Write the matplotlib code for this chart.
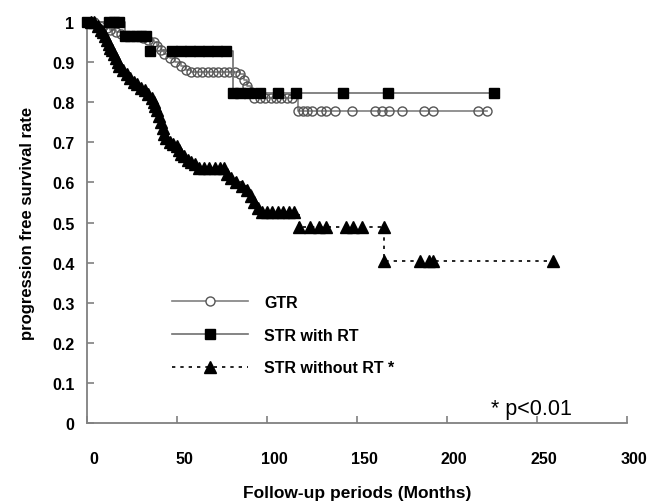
import matplotlib.pyplot as plt
from matplotlib.transforms import ScaledTranslation

plt.rcParams['font.family'] = ['Liberation Sans', 'DejaVu Sans']

# GTR (open circles)
gtr_t = [0, 4, 7, 9, 11, 13, 16, 19, 22, 25, 28, 31, 34, 37, 39, 41, 43, 46, 49, 52, 55,
         58, 61, 64, 67, 70, 73, 76, 79, 82, 85, 87, 89, 91, 93, 96, 99, 102, 105, 108,
         111, 114, 117, 120, 122, 125, 130, 133, 138, 147, 160, 164, 168, 175, 187, 192,
         217, 222]
gtr_s = [1.0, 1.0, 0.99, 0.99, 0.985, 0.98, 0.975, 0.97, 0.965, 0.965, 0.965, 0.96, 0.955,
         0.95, 0.94, 0.93, 0.92, 0.91, 0.90, 0.89, 0.88, 0.875, 0.875, 0.875, 0.875, 0.875,
         0.875, 0.875, 0.875, 0.875, 0.87, 0.855, 0.84, 0.825, 0.81, 0.81, 0.81, 0.81, 0.81,
         0.81, 0.81, 0.81, 0.778, 0.778, 0.778, 0.778, 0.778, 0.778, 0.778, 0.778, 0.778,
         0.778, 0.778, 0.778, 0.778, 0.778, 0.778, 0.778]

# STR with RT (filled squares)
rt_t = [0, 12, 15, 18, 21, 24, 27, 30, 33, 35, 47, 52, 57, 62, 67, 72, 77, 81, 85, 90,
        96, 106, 116, 142, 167, 226]
rt_s = [1.0, 1.0, 1.0, 1.0, 0.965, 0.965, 0.965, 0.965, 0.965, 0.928, 0.928, 0.928, 0.928,
        0.928, 0.928, 0.928, 0.928, 0.823, 0.823, 0.823, 0.823, 0.823, 0.823, 0.823,
        0.823, 0.823]

# STR without RT (filled triangles)
nort_t = [2, 4, 6, 8, 9, 10, 11, 12, 13, 14, 15, 16, 17, 18, 20, 22, 24, 26, 28, 30, 32,
          34, 36, 37, 38, 39, 40, 41, 42, 43, 44, 46, 48, 50, 51, 52, 54, 56, 58, 60, 62,
          65, 68, 71, 74, 76, 78, 80, 83, 86, 89, 91, 93, 95, 97, 100, 103, 106, 109, 112,
          115, 118, 124, 129, 133, 144, 148, 153, 165, 165, 185, 190, 192, 259]
nort_s = [1.0, 1.0, 0.99, 0.98, 0.975, 0.965, 0.955, 0.945, 0.935, 0.93, 0.92, 0.91, 0.90,
          0.89, 0.88, 0.87, 0.86, 0.85, 0.845, 0.835, 0.83, 0.82, 0.81, 0.80, 0.79, 0.78,
          0.765, 0.75, 0.735, 0.72, 0.71, 0.70, 0.695, 0.69, 0.68, 0.67, 0.665, 0.655, 0.65,
          0.645, 0.635, 0.635, 0.635, 0.635, 0.635, 0.635, 0.62, 0.61, 0.60, 0.59, 0.58,
          0.565, 0.55, 0.535, 0.525, 0.525, 0.525, 0.525, 0.525, 0.525, 0.525, 0.489, 0.489,
          0.489, 0.489, 0.489, 0.489, 0.489, 0.489, 0.405, 0.405, 0.405, 0.405, 0.405]

names = ["GTR", "STR with RT", "STR without RT *"]
x_ticks = [0, 50, 100, 150, 200, 250, 300]
y_ticks = [0, 0.1, 0.2, 0.3, 0.4, 0.5, 0.6, 0.7, 0.8, 0.9, 1]

fig = plt.figure(figsize=(6.52, 5.02), dpi=100)
ax = fig.add_axes([87 / 652, 78 / 502, 540 / 652, 401 / 502])

ax.plot(gtr_t, gtr_s, drawstyle='steps-post', color='#808080', lw=1.2,
        marker='o', ms=6.5, mfc='none', mec='#555555', mew=1.0, clip_on=False,
        label=names[0], zorder=3)
ax.plot(rt_t, rt_s, drawstyle='steps-post', color='#707070', lw=1.2,
        marker='s', ms=7, mfc='black', mec='black', clip_on=False,
        label=names[1], zorder=4)
ax.plot(nort_t, nort_s, drawstyle='steps-post', color='black', lw=1.2,
        linestyle=(0, (2, 3)), marker='^', ms=8, mfc='black', mec='black',
        clip_on=False, label=names[2], zorder=5)

ax.set_xlim(0, 300)
ax.set_ylim(0, 1)
ax.set_xticks(x_ticks)
ax.set_yticks(y_ticks)
ax.set_xticklabels([str(v) for v in x_ticks])
ax.set_yticklabels(['0', '0.1', '0.2', '0.3', '0.4', '0.5', '0.6', '0.7', '0.8', '0.9', '1'])

for side in ['top', 'right']:
    ax.spines[side].set_visible(False)
for side in ['left', 'bottom']:
    ax.spines[side].set_color('#808080')
    ax.spines[side].set_linewidth(1.3)

ax.tick_params(axis='both', direction='in', length=5, width=1.2, color='#808080',
               labelsize=11.5, labelcolor='black')
ax.tick_params(axis='x', pad=20)
ax.tick_params(axis='y', pad=9)
for lab in ax.get_xticklabels() + ax.get_yticklabels():
    lab.set_fontweight('bold')
for lab in ax.get_xticklabels():
    lab.set_transform(lab.get_transform() + ScaledTranslation(5 / 72, 0, fig.dpi_scale_trans))

ax.set_xlabel('Follow-up periods (Months)', fontsize=12.5, fontweight='bold', labelpad=14)
ax.set_ylabel('progression free survival rate', fontsize=12, fontweight='bold', labelpad=12)

leg = ax.legend(loc='upper left', bbox_to_anchor=(0.157, 0.32), frameon=False,
                fontsize=11.5, handlelength=4.8, handletextpad=1.0, labelspacing=1.12,
                borderpad=0, borderaxespad=0, markerscale=1.0)
for t in leg.get_texts():
    t.set_fontweight('bold')
leg.get_lines()[0].set_markerfacecolor('white')

ax.text(0.748, 0.037, '* p<0.01', transform=ax.transAxes, fontsize=15.5, va='center')

fig.savefig('out.png', dpi=100)
